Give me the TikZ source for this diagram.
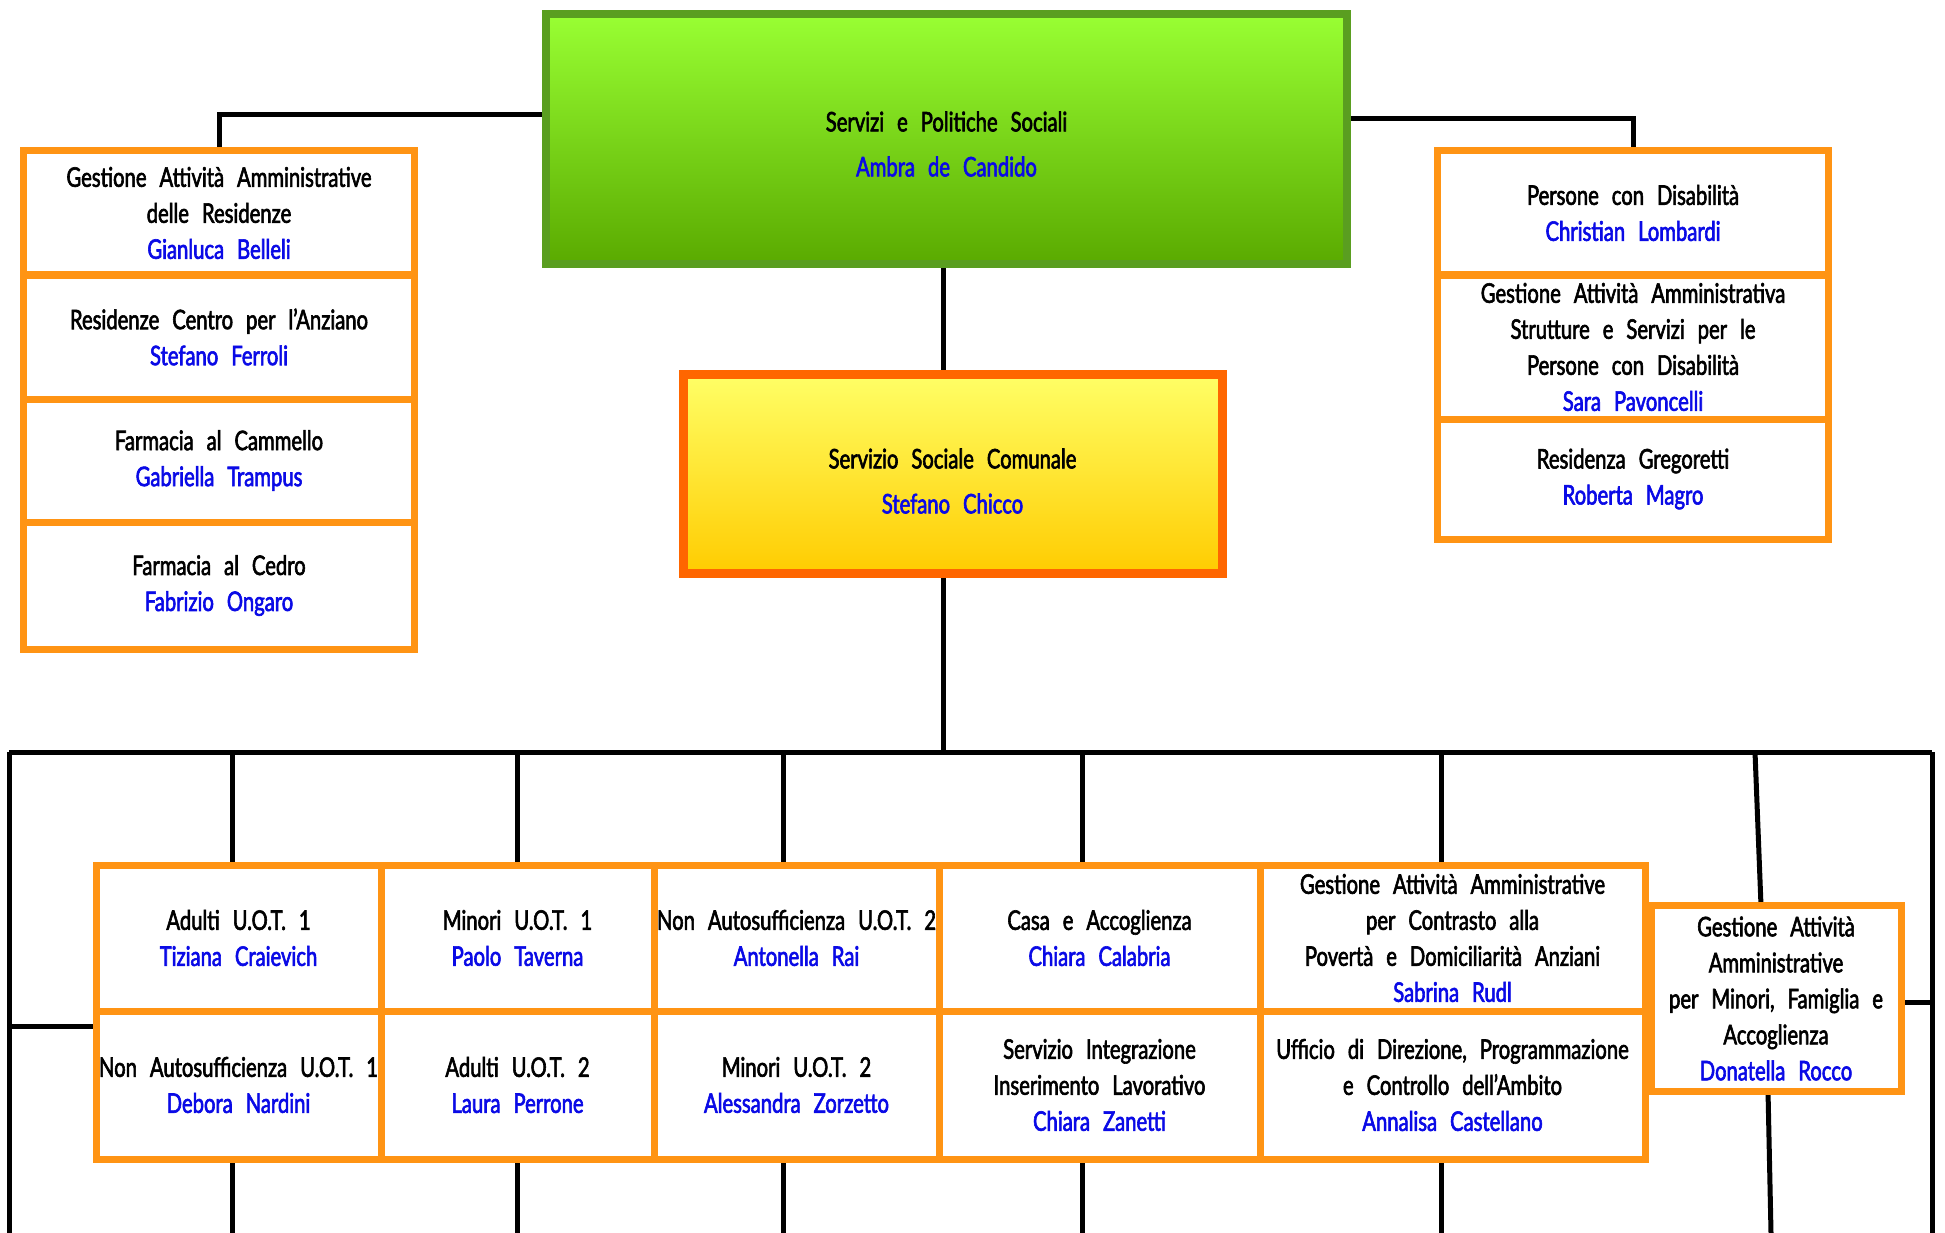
\documentclass[tikz,border=0pt]{standalone}
\usepackage{fontspec}
\setmainfont[FakeStretch=0.75, FakeBold=2.2, WordSpace=2.5]{Lato}
\usetikzlibrary{calc}

\definecolor{boxorange}{RGB}{255,148,20}
\definecolor{headorange}{RGB}{255,102,0}
\definecolor{nameblue}{RGB}{10,10,230}
\definecolor{leafgreen}{RGB}{90,158,32}
\definecolor{greentop}{RGB}{153,255,51}
\definecolor{greenbot}{RGB}{90,170,0}
\definecolor{yellowtop}{RGB}{255,255,102}
\definecolor{yellowbot}{RGB}{255,204,0}
\newcommand\who[1]{\textcolor{nameblue}{#1}}

\tikzset{
  unit/.style={draw=boxorange, line width=7pt, fill=white, align=center, inner sep=1pt,
    font=\fontsize{27}{36}\selectfont},
  head/.style={align=center, inner sep=1pt, font=\fontsize{27}{45}\selectfont},
  link/.style={black, line width=5pt}
}

\begin{document}
\begin{tikzpicture}[x=1pt,y=-1pt]
\useasboundingbox (0,0) rectangle (1945,1233);

\coordinate (bottom) at (0,1233);
\coordinate (hub) at (943,752);
\coordinate (busL) at (9,752);
\coordinate (busR) at (1932,752);
\coordinate (busR2) at (1755,752);

% collegamenti
\draw[link] (busL) -- (busR);
\draw[link] (busL) -- (busL |- bottom);
\draw[link] (busR) -- (busR |- bottom);
\draw[link] (busL |- 0,1026) -- (239.5,1026);
\draw[link] (1776,1002) -- (busR |- 0,1002);
\draw[link] (busR2) -- (1761,906);
\draw[link] (1768,1091) -- (1771,1233);
\draw[link] (hub) -- (hub |- 0,139);
\draw[link] (946,115) -| (219,213);
\draw[link] (946,119) -| (1633,213);
\foreach \x [count=\i] in {232,517,783,1082,1441}{
  \coordinate (drop\i) at (\x,752);
  \draw[link] (drop\i) -- (drop\i |- bottom);
}

% direzione e servizio sociale
\node[head, draw=leafgreen, line width=8pt, top color=greentop, bottom color=greenbot,
  minimum width=801pt, minimum height=250pt] (politiche) at (946.5,139)
  {\rule{0pt}{30pt}Servizi e Politiche Sociali\\\who{Ambra de Candido}};
\node[head, draw=headorange, line width=9pt, top color=yellowtop, bottom color=yellowbot,
  minimum width=539pt, minimum height=199pt] (comunale) at (952.5,474)
  {\rule{0pt}{34pt}Servizio Sociale Comunale\\\who{Stefano Chicco}};

% colonna sinistra
\node[unit, minimum width=391pt, minimum height=124pt] (gestres) at (219,213)
  {Gestione Attività Amministrative\\delle Residenze\\\who{Gianluca Belleli}};
\node[unit, minimum width=391pt, minimum height=124pt] (anziano) at (219,337)
  {Residenze Centro per l'Anziano\\\who{Stefano Ferroli}};
\node[unit, minimum width=391pt, minimum height=123pt] (cammello) at (219,460.5)
  {Farmacia al Cammello\\\who{Gabriella Trampus}};
\node[unit, minimum width=391pt, minimum height=127pt] (cedro) at (219,585.5)
  {Farmacia al Cedro\\\who{Fabrizio Ongaro}};

% colonna destra
\node[unit, minimum width=391pt, minimum height=124pt] (disab) at (1633,213)
  {Persone con Disabilità\\\who{Christian Lombardi}};
\node[unit, minimum width=391pt, minimum height=144pt] (strutture) at (1633,347)
  {Gestione Attività Amministrativa\\Strutture e Servizi per le\\Persone con Disabilità\\\who{Sara Pavoncelli}};
\node[unit, minimum width=391pt, minimum height=120pt] (gregoretti) at (1633,479)
  {Residenza Gregoretti\\\who{Roberta Magro}};

% griglia
\node[unit, minimum width=285pt, minimum height=146pt] (adultiA) at (238.5,938)
  {Adulti U.O.T. 1\\\who{Tiziana Craievich}};
\node[unit, minimum width=273pt, minimum height=146pt] (minoriA) at (517.5,938)
  {Minori U.O.T. 1\\\who{Paolo Taverna}};
\node[unit, minimum width=285pt, minimum height=146pt] (nonautoB) at (796.5,938)
  {Non Autosufficienza U.O.T. 2\\\who{Antonella Rai}};
\node[unit, minimum width=321pt, minimum height=146pt] (casa) at (1099.5,938)
  {Casa e Accoglienza\\\who{Chiara Calabria}};
\node[unit, minimum width=385pt, minimum height=146pt] (poverta) at (1452.5,938)
  {Gestione Attività Amministrative\\per Contrasto alla\\Povertà e Domiciliarità Anziani\\\who{Sabrina Rudl}};
\node[unit, minimum width=285pt, minimum height=148pt] (nonautoA) at (238.5,1085)
  {Non Autosufficienza U.O.T. 1\\\who{Debora Nardini}};
\node[unit, minimum width=273pt, minimum height=148pt] (adultiB) at (517.5,1085)
  {Adulti U.O.T. 2\\\who{Laura Perrone}};
\node[unit, minimum width=285pt, minimum height=148pt] (minoriB) at (796.5,1085)
  {Minori U.O.T. 2\\\who{Alessandra Zorzetto}};
\node[unit, minimum width=321pt, minimum height=148pt] (integr) at (1099.5,1085)
  {Servizio Integrazione\\Inserimento Lavorativo\\\who{Chiara Zanetti}};
\node[unit, minimum width=385pt, minimum height=148pt] (direzione) at (1452.5,1085)
  {Ufficio di Direzione, Programmazione\\e Controllo dell'Ambito\\\who{Annalisa Castellano}};
\node[unit, minimum width=250pt, minimum height=186pt] (rocco) at (1776,998.5)
  {Gestione Attività\\Amministrative\\per Minori, Famiglia e\\Accoglienza\\\who{Donatella Rocco}};
\end{tikzpicture}
\end{document}
